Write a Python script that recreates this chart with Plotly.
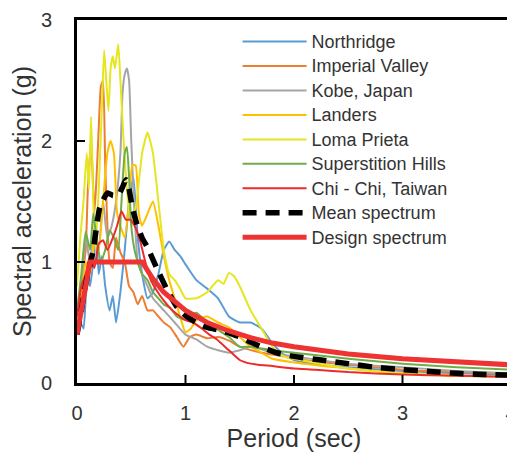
import plotly.graph_objects as go

# ---- data ----
t_northridge = [0, 0.03, 0.06, 0.08, 0.1, 0.12, 0.15, 0.18, 0.2, 0.23, 0.26, 0.3, 0.33, 0.36, 0.4, 0.44, 0.48, 0.52, 0.56, 0.6, 0.65, 0.7, 0.75, 0.8, 0.85, 0.9, 0.95, 1.0, 1.1, 1.2, 1.3, 1.4, 1.5, 1.6, 1.7, 1.8, 1.9, 2.0, 2.25, 2.5, 3.0, 3.5, 4.0]
sa_northridge = [0.4, 0.5, 0.45, 0.7, 0.9, 0.8, 1.0, 1.2, 0.9, 1.05, 0.8, 0.6, 0.72, 0.5, 0.75, 1.1, 1.5, 1.7, 1.2, 0.9, 0.7, 0.75, 0.9, 1.1, 1.17, 1.1, 1.05, 0.98, 0.85, 0.78, 0.7, 0.55, 0.5, 0.5, 0.45, 0.33, 0.24, 0.19, 0.15, 0.13, 0.1, 0.08, 0.07]

t_imperial = [0, 0.04, 0.08, 0.1, 0.13, 0.16, 0.18, 0.2, 0.22, 0.24, 0.26, 0.28, 0.3, 0.33, 0.36, 0.4, 0.44, 0.48, 0.52, 0.56, 0.6, 0.65, 0.7, 0.75, 0.8, 0.86, 0.92, 0.98, 1.04, 1.1, 1.2, 1.3, 1.4, 1.5, 1.7, 1.9, 2.0, 2.5, 3.0, 3.5, 4.0]
sa_imperial = [0.45, 0.8, 1.1, 1.6, 2.0, 1.4, 1.7, 2.1, 2.45, 2.5, 1.8, 1.3, 1.0, 0.95, 1.2, 1.08, 1.0, 0.8, 0.75, 0.65, 0.72, 0.6, 0.6, 0.55, 0.5, 0.46, 0.38, 0.3, 0.38, 0.4, 0.37, 0.38, 0.35, 0.3, 0.25, 0.22, 0.2, 0.15, 0.11, 0.09, 0.08]

t_kobe = [0, 0.04, 0.08, 0.12, 0.16, 0.2, 0.24, 0.28, 0.32, 0.36, 0.4, 0.42, 0.44, 0.46, 0.48, 0.5, 0.53, 0.56, 0.6, 0.65, 0.7, 0.8, 0.9, 1.0, 1.1, 1.2, 1.3, 1.4, 1.5, 1.6, 1.8, 2.0, 2.5, 3.0, 3.5, 4.0]
sa_kobe = [0.5, 0.8, 1.2, 1.0, 1.3, 1.1, 1.5, 1.2, 1.3, 1.5, 1.9, 2.4, 2.55, 2.6, 2.5, 2.0, 1.4, 1.0, 0.9, 0.8, 0.7, 0.6, 0.5, 0.4, 0.36, 0.3, 0.27, 0.25, 0.27, 0.3, 0.25, 0.22, 0.16, 0.13, 0.1, 0.08]

t_landers = [0, 0.04, 0.08, 0.12, 0.16, 0.2, 0.24, 0.28, 0.31, 0.34, 0.37, 0.4, 0.44, 0.48, 0.51, 0.54, 0.57, 0.6, 0.65, 0.7, 0.75, 0.8, 0.85, 0.9, 0.95, 1.0, 1.05, 1.1, 1.2, 1.3, 1.4, 1.5, 1.6, 1.7, 1.8, 2.0, 2.5, 3.0, 3.5, 4.0]
sa_landers = [0.5, 0.7, 1.0, 0.9, 1.2, 1.1, 1.5, 1.9, 2.0, 1.9, 1.4, 1.3, 1.2, 1.5, 1.8, 1.8, 1.4, 1.3, 1.4, 1.5, 1.3, 1.05, 0.85, 0.7, 0.55, 0.42, 0.45, 0.52, 0.55, 0.5, 0.46, 0.38, 0.3, 0.25, 0.2, 0.17, 0.12, 0.08, 0.06, 0.05]

t_loma = [0, 0.03, 0.06, 0.09, 0.11, 0.13, 0.15, 0.17, 0.2, 0.23, 0.25, 0.27, 0.29, 0.31, 0.33, 0.35, 0.38, 0.4, 0.43, 0.46, 0.5, 0.55, 0.6, 0.65, 0.7, 0.75, 0.8, 0.85, 0.9, 0.95, 1.0, 1.1, 1.2, 1.3, 1.35, 1.4, 1.45, 1.5, 1.6, 1.7, 1.8, 1.9, 2.0, 2.5, 3.0, 3.5, 4.0]
sa_loma = [0.8, 1.2, 1.5, 1.9, 1.6, 2.2, 1.5, 1.1, 1.6, 2.3, 2.75, 2.5, 2.25, 2.6, 2.7, 2.6, 2.8, 2.5, 2.0, 1.6, 1.3, 1.5, 1.9, 2.07, 1.9, 1.5, 1.1, 0.9, 0.85, 0.78, 0.7, 0.7, 0.75, 0.85, 0.82, 0.91, 0.88, 0.8, 0.6, 0.45, 0.3, 0.22, 0.2, 0.12, 0.08, 0.06, 0.05]

t_superstition = [0, 0.04, 0.08, 0.12, 0.15, 0.18, 0.22, 0.26, 0.3, 0.34, 0.38, 0.41, 0.44, 0.46, 0.48, 0.5, 0.53, 0.56, 0.6, 0.65, 0.7, 0.75, 0.8, 0.86, 0.92, 1.0, 1.05, 1.1, 1.2, 1.3, 1.4, 1.5, 1.6, 1.8, 2.0, 2.5, 3.0, 3.5, 4.0]
sa_superstition = [0.6, 0.9, 1.25, 1.1, 1.4, 1.2, 1.0, 1.1, 1.26, 1.2, 1.1, 1.5, 1.9, 1.95, 1.7, 1.3, 1.1, 1.0, 0.9, 0.85, 0.75, 0.7, 0.65, 0.62, 0.55, 0.52, 0.56, 0.58, 0.5, 0.44, 0.38, 0.3, 0.3, 0.27, 0.25, 0.2, 0.16, 0.13, 0.11]

t_chichi = [0, 0.04, 0.08, 0.12, 0.16, 0.2, 0.24, 0.28, 0.33, 0.37, 0.41, 0.45, 0.49, 0.53, 0.58, 0.63, 0.68, 0.73, 0.8, 0.88, 0.95, 1.0, 1.07, 1.15, 1.22, 1.29, 1.4, 1.5, 1.6, 1.8, 2.0, 2.2, 2.5, 3.0, 3.5, 4.0]
sa_chichi = [0.55, 0.8, 0.9, 1.05, 0.95, 1.15, 1.18, 1.1, 1.2, 1.3, 1.42, 1.35, 1.35, 1.3, 1.18, 1.0, 0.85, 0.77, 0.68, 0.6, 0.55, 0.52, 0.5, 0.45, 0.4, 0.36, 0.27, 0.19, 0.16, 0.14, 0.12, 0.11, 0.09, 0.07, 0.06, 0.05]

t_mean = [0, 0.04, 0.07, 0.1, 0.15, 0.21, 0.28, 0.33, 0.38, 0.42, 0.45, 0.48, 0.51, 0.55, 0.6, 0.65, 0.73, 0.83, 0.92, 1.01, 1.1, 1.2, 1.3, 1.38, 1.5, 1.62, 1.75, 1.84, 2.0, 2.25, 2.5, 2.75, 3.0, 3.25, 3.5, 3.75, 4.0]
sa_mean = [0.4, 0.6, 0.77, 0.9, 1.1, 1.45, 1.57, 1.55, 1.55, 1.62, 1.68, 1.6, 1.45, 1.32, 1.2, 1.12, 0.96, 0.77, 0.63, 0.55, 0.5, 0.46, 0.44, 0.42, 0.38, 0.33, 0.28, 0.25, 0.22, 0.19, 0.16, 0.13, 0.11, 0.095, 0.08, 0.07, 0.065]

t_design = [0, 0.12, 0.6, 0.7, 0.8, 0.9, 1.0, 1.2, 1.4, 1.6, 1.8, 2.0, 2.5, 3.0, 3.5, 4.0]
sa_design = [0.4, 1.0, 1.0, 0.86, 0.75, 0.67, 0.6, 0.5, 0.43, 0.375, 0.33, 0.3, 0.24, 0.2, 0.17, 0.15]

x_ticks = [0, 1, 2, 3, 4]
y_ticks = [0, 1, 2, 3]
x_range = [0, 4]
y_range = [0, 3]

records = [
    ("Northridge", t_northridge, sa_northridge, "#5B9BD5"),
    ("Imperial Valley", t_imperial, sa_imperial, "#ED7D31"),
    ("Kobe, Japan", t_kobe, sa_kobe, "#A5A5A5"),
    ("Landers", t_landers, sa_landers, "#FFC000"),
    ("Loma Prieta", t_loma, sa_loma, "#E6E620"),
    ("Superstition Hills", t_superstition, sa_superstition, "#70AD47"),
    ("Chi - Chi, Taiwan", t_chichi, sa_chichi, "#EE2A2A"),
]

FRAME = "#000000"
LEG = "<span style='font-size:18px'>%s</span>"

fig = go.Figure()
for name, t, sa, col in records:
    fig.add_trace(go.Scatter(x=t, y=sa, name=LEG % name, mode="lines",
                             line=dict(color=col, width=2, shape="spline", smoothing=0.5)))

fig.add_trace(go.Scatter(x=t_mean, y=sa_mean, name=LEG % "Mean spectrum", mode="lines",
                         line=dict(color="black", width=5.5, dash="14px,9px", shape="spline", smoothing=0.5)))
fig.add_trace(go.Scatter(x=t_design, y=sa_design, name=LEG % "Design spectrum", mode="lines",
                         line=dict(color="#EE3333", width=5)))

axis_common = dict(
    showline=True, linecolor=FRAME, linewidth=3, mirror=True,
    ticks="inside", ticklen=8, tickwidth=2, tickcolor=FRAME,
    showgrid=False, zeroline=False, automargin=False,
    ticklabeloverflow="allow", layer="above traces",
    tickfont=dict(family="Liberation Sans, Arial", size=20, color="#333333"),
)

# page body has an 8px margin, so the figure is drawn 8px in from the window corner
fig.update_layout(
    width=507, height=446,
    margin=dict(l=69, r=4, t=12, b=71, autoexpand=False),
    paper_bgcolor="white", plot_bgcolor="white",
    font=dict(family="Liberation Sans, Arial", color="#333333"),
    xaxis=dict(range=x_range, tickvals=x_ticks, ticklabelstandoff=10,
               title=dict(text="Period (sec)", font=dict(size=25, color="#333333"), standoff=4),
               **axis_common),
    yaxis=dict(range=y_range, tickvals=y_ticks, ticklabelstandoff=18,
               title=dict(text="Spectral acceleration (g)", font=dict(size=25, color="#333333"), standoff=12),
               **axis_common),
    legend=dict(x=0.37, y=0.988, xanchor="left", yanchor="top", xref="paper", yref="paper",
                bgcolor="rgba(0,0,0,0)", borderwidth=0,
                font=dict(family="Liberation Sans, Arial", size=16.5, color="#333333"),
                itemwidth=64, tracegroupgap=0),
    showlegend=True,
)

# make sure the crisp-edged axis lines and ticks are painted normally
post = ("var s=document.createElement('style');"
        "s.innerHTML='.main-svg path{shape-rendering:auto !important;}';"
        "document.head.appendChild(s);")

fig.write_html("out.html", post_script=post)
